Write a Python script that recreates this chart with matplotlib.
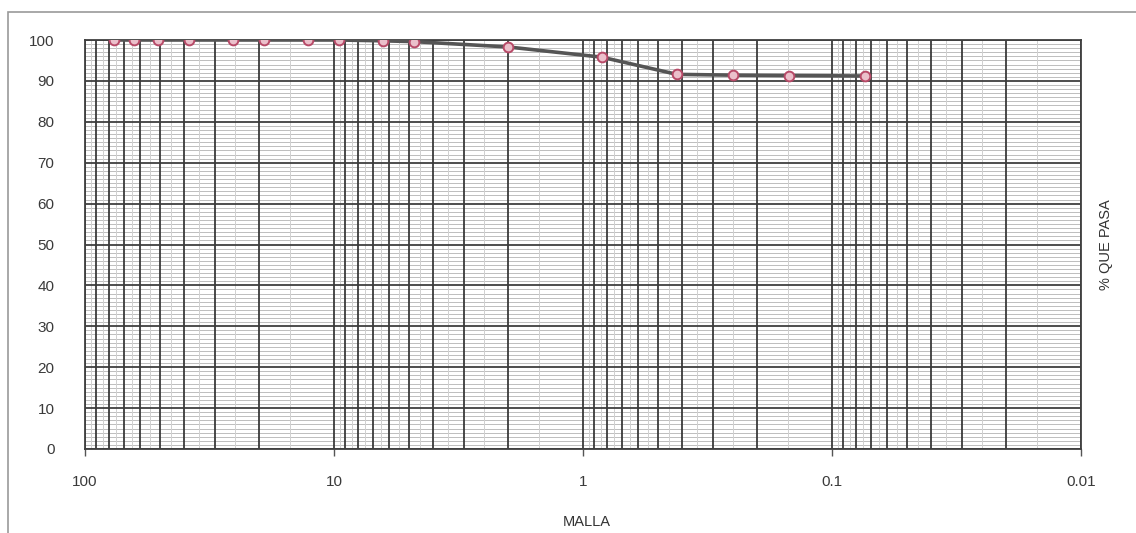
import matplotlib
matplotlib.use("Agg")
import matplotlib.pyplot as plt
import numpy as np
from matplotlib.patches import Rectangle
from matplotlib.ticker import FixedLocator, NullFormatter, FixedFormatter

# Sieve openings (mm) and cumulative percent passing
sieve_mm = [76.2, 63.5, 50.8, 38.1, 25.4, 19.05, 12.7, 9.525, 6.35, 4.76,
            2.0, 0.84, 0.42, 0.25, 0.149, 0.074]
percent_passing = [100, 100, 100, 100, 100, 100, 100, 100, 99.8, 99.6,
                   98.3, 95.8, 91.6, 91.4, 91.3, 91.2]

x_ticks = [100, 10, 1, 0.1, 0.01]
x_tick_labels = ["100", "10", "1", "0.1", "0.01"]
y_ticks = [0, 10, 20, 30, 40, 50, 60, 70, 80, 90, 100]

plt.rcParams['font.family'] = ['Liberation Sans', 'DejaVu Sans']

fig = plt.figure(figsize=(11.36, 5.33), dpi=100)
ax = fig.add_axes([85 / 1136, 1 - 449 / 533, (1081 - 85) / 1136, (449 - 40) / 533])

ax.set_xscale('log')
ax.set_xlim(100, 0.01)
ax.set_ylim(0, 100)

# Horizontal grid: fine lines every unit, heavier every ten
for v in range(0, 101):
    if v % 10:
        ax.axhline(v, color='#bdbdbd', lw=0.7, zorder=0)
for v in y_ticks:
    ax.axhline(v, color='#404040', lw=1.3, zorder=1)

# Vertical log grid: decades and 2..9 subdivisions
for dec in [0.01, 0.1, 1, 10]:
    for k in range(1, 10):
        ax.axvline(dec * k, color='#3a3a3a', lw=1.3, zorder=1)
        ax.axvline(dec * (k + 0.5), color='#d0d0d0', lw=0.7, zorder=0)
ax.axvline(100, color='#3a3a3a', lw=1.3, zorder=1)

ax.plot(sieve_mm, percent_passing, color='#555555', lw=2.6, zorder=3)
ax.plot(sieve_mm, percent_passing, linestyle='none', marker='o', ms=7,
        mfc='#ebc0cb', mec='#b84a68', mew=1.4, zorder=4)

ax.xaxis.set_major_locator(FixedLocator(x_ticks))
ax.xaxis.set_major_formatter(FixedFormatter(x_tick_labels))
ax.xaxis.set_minor_locator(FixedLocator([]))
ax.xaxis.set_minor_formatter(NullFormatter())
ax.set_yticks(y_ticks)
ax.tick_params(axis='x', length=5, width=1, color='#555555', pad=14,
               labelsize=11, labelcolor='#3a3a3a')
ax.tick_params(axis='y', length=0, pad=22, labelsize=11, labelcolor='#3a3a3a')

for s in ax.spines.values():
    s.set_color('#404040')
    s.set_linewidth(1.3)

fig.text(587 / 1136, 1 - 522 / 533, "MALLA", ha='center', va='center',
         fontsize=10.5, color='#333333')
fig.text(1106 / 1136, 1 - 245 / 533, "% QUE PASA", ha='center', va='center',
         rotation=90, fontsize=10.5, color='#333333')

# Chart area outline
fig.patches.append(Rectangle((8 / 1136, -0.05), 1.2, 1 - 12 / 533 + 0.05,
                             transform=fig.transFigure, fill=False,
                             edgecolor='#9a9a9a', lw=1.2))

fig.savefig("out.png", dpi=100)
